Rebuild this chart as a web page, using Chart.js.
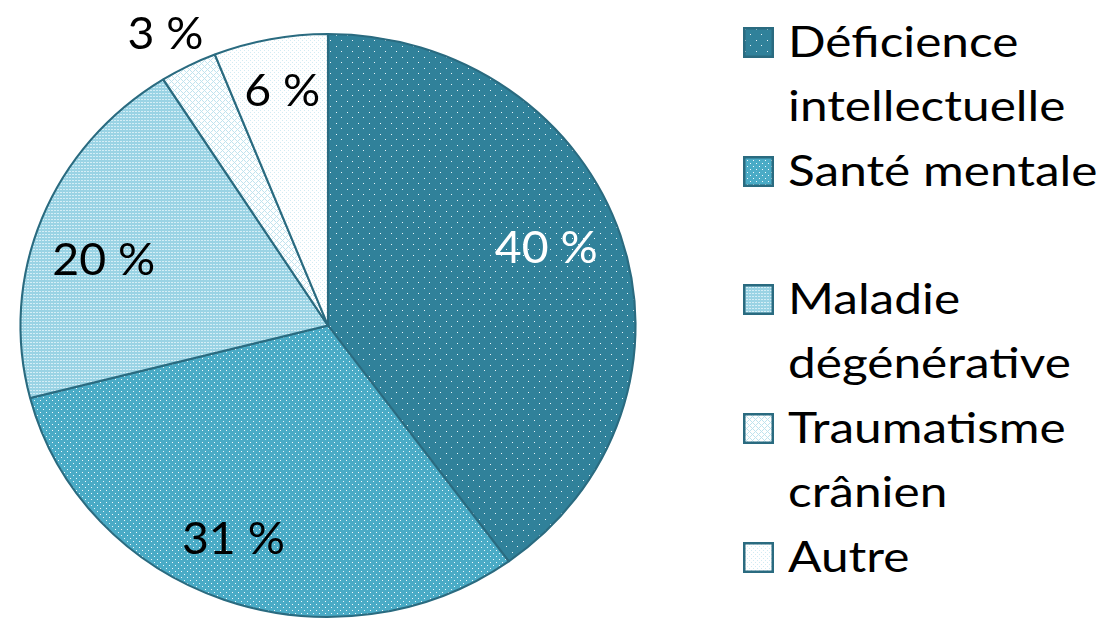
<!DOCTYPE html>
<html lang="fr">
<head>
<meta charset="utf-8">
<title>Répartition par type de déficience</title>
<script src="https://cdn.jsdelivr.net/npm/chart.js@4.4.0/dist/chart.umd.min.js"></script>
<style>
    html, body { margin: 0; padding: 0; background: #fff; }
    body { width: 1102px; height: 621px; position: relative; overflow: hidden; font-family: Lato, sans-serif; }
    #pieWrap { position: absolute; left: 0; top: 0; width: 660px; height: 621px; }
    #legend { position: absolute; left: 743px; top: 0; width: 359px; height: 621px; }
    .item { position: absolute; left: 0; display: flex; align-items: flex-start; }
    .item canvas { margin-top: 18px; flex: none; }
    .item .txt { font-size: 42px; line-height: 64px; color: #000; margin-left: 14px; white-space: nowrap;
                 transform: scaleX(1.18); transform-origin: 0 0; }
</style>
</head>
<body>
<div id="pieWrap"><canvas id="pieChart"></canvas></div>
<div id="legend"></div>
<script>
// ----------------------------------------------------
// Data
// ----------------------------------------------------
const categories = [
    ['Déficience', 'intellectuelle'],
    ['Santé mentale'],
    ['Maladie', 'dégénérative'],
    ['Traumatisme', 'crânien'],
    ['Autre']
];
const values = [40, 31, 20, 3, 6];
const labelColors = ['#ffffff', '#000000', '#000000', '#000000', '#000000'];

const borderColor = '#2a6b80';
const stretchX = 1.055; // the reference pie is a bit wider than tall

// small repeating tiles to mimic the Excel pattern fills
function makeTile(bg, fg, w, h, dots) {
    const c = document.createElement('canvas');
    c.width = w;
    c.height = h;
    const g = c.getContext('2d');
    g.fillStyle = bg;
    g.fillRect(0, 0, w, h);
    g.fillStyle = fg;
    dots.forEach(d => g.fillRect(d[0], d[1], 1, 1));
    return c;
}

function latticeDots(n) {
    const pts = [];
    for (let x = 0; x < n; x++) {
        for (let y = 0; y < n; y++) {
            if ((x + y) % n === 0 || (x - y + n) % n === 0) pts.push([x, y]);
        }
    }
    return pts;
}

const tiles = [
    makeTile('#30819a', '#e8f4f8', 11, 11, [[2, 2], [7, 7]]),   // Déficience
    makeTile('#4aabc6', '#f0f9fc', 6, 6, [[1, 1], [4, 4]]),     // Santé mentale
    makeTile('#9ad3e4', '#d4eef6', 3, 3, [[0, 0], [1, 0]]),     // Maladie
    makeTile('#ffffff', '#bfe3ee', 6, 6, latticeDots(6)),       // Traumatisme
    makeTile('#ffffff', '#d2ebf3', 4, 4, [[0, 0], [2, 2]])      // Autre
];

// ----------------------------------------------------
// Stretch the pie horizontally around its centre
// ----------------------------------------------------
const ellipse = {
    id: 'ellipse',
    beforeDatasetsDraw(chart) {
        const arc = chart.getDatasetMeta(0).data[0];
        const ctx = chart.ctx;
        ctx.save();
        ctx.translate(arc.x, arc.y);
        ctx.scale(stretchX, 1);
        ctx.translate(-arc.x, -arc.y);
    },
    afterDatasetsDraw(chart) {
        chart.ctx.restore();
    }
};

// ----------------------------------------------------
// Percentage labels drawn on the slices
// [radius factor, angle shift in degrees] per slice, like Excel's best fit
// ----------------------------------------------------
const labelPlacement = [[0.757, -2.4], [0.797, 2.9], [0.762, -4.7], [1.129, -0.9], [0.817, 0.3]];

const pieLabels = {
    id: 'pieLabels',
    afterDatasetsDraw(chart) {
        const ctx = chart.ctx;
        const meta = chart.getDatasetMeta(0);
        ctx.save();
        ctx.font = '44px Lato';
        ctx.textAlign = 'center';
        ctx.textBaseline = 'middle';
        meta.data.forEach((arc, i) => {
            const p = arc.getProps(['x', 'y', 'startAngle', 'endAngle', 'outerRadius'], true);
            const f = labelPlacement[i][0];
            const mid = (p.startAngle + p.endAngle) / 2 + labelPlacement[i][1] * Math.PI / 180;
            ctx.fillStyle = labelColors[i];
            ctx.fillText(values[i] + '\u00a0%', p.x + Math.cos(mid) * p.outerRadius * f, p.y + Math.sin(mid) * p.outerRadius * f);
        });
        ctx.restore();
    }
};

// ----------------------------------------------------
// HTML legend built from the chart's own legend items
// ----------------------------------------------------
const htmlLegend = {
    id: 'htmlLegend',
    afterUpdate(chart) {
        const box = document.getElementById('legend');
        box.innerHTML = '';
        const items = Chart.overrides.pie.plugins.legend.labels.generateLabels(chart);
        items.forEach((item, i) => {
            const row = document.createElement('div');
            row.className = 'item';
            row.style.top = (8.75 + i * 128.75) + 'px';

            const sw = document.createElement('canvas');
            sw.width = 31;
            sw.height = 31;
            const g = sw.getContext('2d');
            g.fillStyle = g.createPattern(tiles[i], 'repeat');
            g.fillRect(0, 0, 31, 31);
            g.strokeStyle = borderColor;
            g.lineWidth = 2.5;
            g.strokeRect(1.25, 1.25, 28.5, 28.5);

            const txt = document.createElement('div');
            txt.className = 'txt';
            const lines = Array.isArray(item.text) ? item.text : [item.text];
            txt.innerHTML = lines.join('<br>');

            row.appendChild(sw);
            row.appendChild(txt);
            box.appendChild(row);
        });
    }
};

function draw() {
    const ctx = document.getElementById('pieChart').getContext('2d');
    // patterns are undone by the stretch so the dots stay crisp
    const patterns = tiles.map(t => {
        const pat = ctx.createPattern(t, 'repeat');
        pat.setTransform(new DOMMatrix().scale(1 / stretchX, 1));
        return pat;
    });

    new Chart(ctx, {
        type: 'pie',
        data: {
            labels: categories,
            datasets: [{
                data: values,
                backgroundColor: patterns,
                borderColor: borderColor,
                borderWidth: 2,
                hoverOffset: 0,
                clip: false
            }]
        },
        options: {
            responsive: true,
            maintainAspectRatio: false,
            animation: false,
            events: [],
            layout: {
                padding: { top: 33, bottom: 3, left: 35.5, right: 39.5 }
            },
            plugins: {
                legend: { display: false },
                tooltip: { enabled: false }
            }
        },
        plugins: [pieLabels, ellipse, htmlLegend]
    });
}

document.fonts.load('40px Lato').then(draw, draw);
</script>
</body>
</html>
